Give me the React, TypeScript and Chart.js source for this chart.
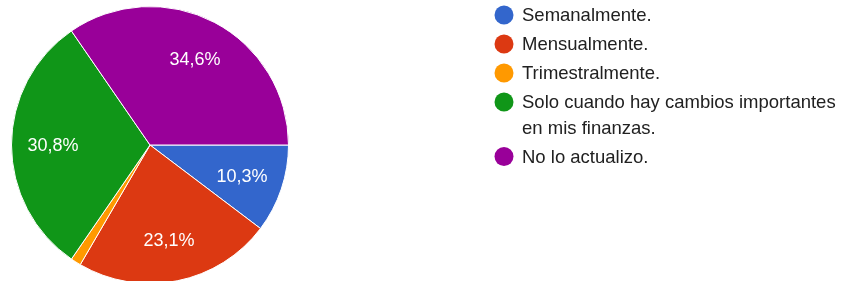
import React, { useEffect, useRef } from "react";
import { Chart, registerables } from "chart.js";

Chart.register(...registerables);

const categories = [
  "Semanalmente.",
  "Mensualmente.",
  "Trimestralmente.",
  "Solo cuando hay cambios importantes en mis finanzas.",
  "No lo actualizo.",
];
const legendLines = [
  ["Semanalmente."],
  ["Mensualmente."],
  ["Trimestralmente."],
  ["Solo cuando hay cambios importantes", "en mis finanzas."],
  ["No lo actualizo."],
];
const values = [10.3, 23.1, 1.2, 30.8, 34.6];
const colors = ["#3366cc", "#dc3912", "#ff9900", "#109618", "#990099"];

const FONT = "Arial, 'Liberation Sans', Helvetica, sans-serif";

const sliceLabels = {
  id: "sliceLabels",
  afterDatasetsDraw(chart: any) {
    const ctx = chart.ctx;
    const meta = chart.getDatasetMeta(0);
    ctx.save();
    ctx.font = `18px ${FONT}`;
    ctx.fillStyle = "#ffffff";
    ctx.textAlign = "center";
    ctx.textBaseline = "middle";
    meta.data.forEach((arc: any, i: number) => {
      const v = values[i];
      if (v < 5) return;
      const mid = (arc.startAngle + arc.endAngle) / 2;
      const r = arc.outerRadius * 0.7;
      const x = arc.x + Math.cos(mid) * r;
      const y = arc.y + Math.sin(mid) * r;
      ctx.fillText(v.toFixed(1).replace(".", ",") + "%", x, y + 1);
    });
    ctx.restore();
  },
};

const sideLegend = {
  id: "sideLegend",
  afterDraw(chart: any) {
    const ctx = chart.ctx;
    ctx.save();
    ctx.font = `18.5px ${FONT}`;
    ctx.textAlign = "left";
    ctx.textBaseline = "middle";
    const cx = 504;
    const tx = 522;
    let y = 15;
    legendLines.forEach((lines, i) => {
      ctx.beginPath();
      ctx.fillStyle = colors[i];
      ctx.arc(cx, y, 9.5, 0, Math.PI * 2);
      ctx.fill();
      ctx.fillStyle = "#212121";
      lines.forEach((line, j) => {
        ctx.fillText(line, tx, y + j * 25.5 + 1);
      });
      y += 29 + (lines.length - 1) * 25.5;
    });
    ctx.restore();
  },
};

export default function App() {
  const ref = useRef<HTMLCanvasElement>(null);
  useEffect(() => {
    document.body.style.margin = "0";
    const canvas = ref.current!;
    const chart = new Chart(canvas, {
      type: "pie",
      data: {
        labels: categories,
        datasets: [
          {
            data: values,
            backgroundColor: colors,
            borderColor: "#ffffff",
            borderWidth: 1,
          },
        ],
      },
      options: {
        responsive: false,
        animation: false,
        rotation: 90,
        layout: { padding: { left: 11, right: 552, top: 6, bottom: 6 } },
        plugins: {
          legend: { display: false },
          tooltip: { enabled: false },
        },
      },
      plugins: [sliceLabels, sideLegend],
    });
    return () => chart.destroy();
  }, []);
  return (
    <div style={{ width: 841, height: 281, overflow: "hidden", background: "#fff" }}>
      <canvas ref={ref} width={841} height={290} style={{ display: "block" }} />
    </div>
  );
}
